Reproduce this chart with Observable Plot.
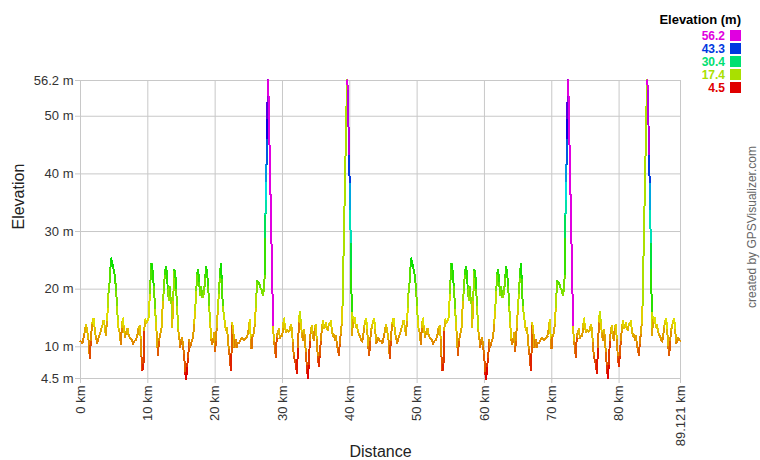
<!DOCTYPE html>
<html><head><meta charset="utf-8">
<script src="https://cdn.jsdelivr.net/npm/d3@7"></script>
<script src="https://cdn.jsdelivr.net/npm/@observablehq/plot@0.6"></script>
<style>
body{margin:0;background:#fff;font-family:"Liberation Sans",Arial,sans-serif;}
#wrap{position:relative;width:760px;height:460px;overflow:hidden;}
#legend{position:absolute;left:600px;top:13px;width:141px;text-align:right;font:bold 12px "Liberation Sans",Arial,sans-serif;line-height:13px;color:#000;}
#legend .title{font-size:13px;margin-bottom:4px;}
#legend .row{height:13px;}
#legend .sw{display:inline-block;width:11px;height:11px;margin-left:5px;vertical-align:-1px;}
#credit{position:absolute;left:752px;top:227px;transform:translate(-50%,-50%) rotate(-90deg);white-space:nowrap;font:12px "Liberation Sans",Arial,sans-serif;color:#666;}
</style></head>
<body><div id="wrap"><div id="chart"></div><div id="legend"></div><div id="credit">created by GPSVisualizer.com</div></div>
<script>
// distance within one lap (km); the course is ridden twice
const lapStartKm = [0, 44.561];
const lapKm = [
  0,0.30,0.59,0.79,0.94,1.19,1.39,1.53,1.73,1.93,
  2.08,2.28,2.48,2.67,2.92,3.17,3.42,3.57,3.76,3.96,
  4.06,4.16,4.31,4.46,4.56,4.71,4.85,5.05,5.20,5.30,
  5.45,5.54,5.69,5.84,5.99,6.14,6.29,6.43,6.63,6.78,
  6.98,7.13,7.38,7.62,7.82,8.02,8.22,8.42,8.62,8.81,
  8.96,9.06,9.21,9.36,9.46,9.61,9.80,10.00,10.15,10.30,
  10.40,10.55,10.70,10.89,11.10,11.20,11.32,11.49,11.69,11.88,
  12.08,12.23,12.38,12.53,12.68,12.82,12.97,13.12,13.22,13.37,
  13.52,13.62,13.77,13.92,14.07,14.21,14.36,14.51,14.66,14.81,
  14.96,15.11,15.25,15.40,15.55,15.70,15.85,16.00,16.15,16.30,
  16.44,16.59,16.74,16.89,17.04,17.19,17.34,17.48,17.63,17.78,
  17.93,18.08,18.23,18.38,18.52,18.67,18.82,18.97,19.12,19.27,
  19.42,19.56,19.71,19.86,20.01,20.10,20.25,20.40,20.55,20.70,
  20.84,20.99,21.14,21.29,21.44,21.59,21.74,21.88,22.03,22.18,
  22.33,22.43,22.53,22.68,22.88,23.02,23.17,23.37,23.57,23.77,
  24.01,24.26,24.51,24.76,25.00,25.15,25.30,25.40,25.55,25.75,
  25.90,26.04,26.14,26.24,26.44,26.64,26.79,26.93,27.08,27.23,
  27.38,27.43,27.48,27.53,27.58,27.63,27.68,27.73,27.78,27.88,
  28.62,28.72,28.87,29.01,29.16,29.31,29.46,29.61,29.76,29.96,
  30.11,30.20,30.35,30.50,30.70,30.90,31.10,31.24,31.39,31.54,
  31.69,31.83,31.98,32.13,32.33,32.43,32.58,32.73,32.87,33.02,
  33.17,33.32,33.47,33.62,33.77,33.92,34.07,34.22,34.36,34.51,
  34.66,34.81,34.95,35.10,35.25,35.40,35.55,35.70,35.84,35.99,
  36.14,36.29,36.44,36.59,36.73,36.88,37.03,37.18,37.33,37.48,
  37.63,37.77,37.92,38.07,38.22,38.37,38.52,38.67,38.81,38.92,
  39.59,39.76,39.85,40.00,40.05,40.15,40.20,40.30,40.35,40.50,
  40.60,40.75,40.90,41.04,41.24,41.39,41.54,41.69,41.84,41.99,
  42.14,42.29,42.44,42.59,42.74,42.89,43.03,43.18,43.33,43.48,
  43.63,43.78,43.93,44.07,44.22,44.37,44.56
];
// elevation (m), lap 1
const lap1M = [
  11.0,10.7,12.4,13.8,13.2,11.2,8.0,11.2,14.1,14.9,
  13.4,11.7,10.7,11.5,12.4,13.4,14.5,13.8,12.1,14.7,
  16.9,19.3,21.1,23.8,25.3,24.7,23.7,22.7,21.0,19.5,
  16.9,14.4,12.9,12.4,10.5,13.4,14.9,13.4,11.7,12.6,
  13.1,12.1,11.5,11.2,10.5,11.0,11.2,11.8,13.2,13.6,
  11.2,8.3,5.9,7.2,12.9,14.7,14.2,14.7,15.2,19.3,
  21.6,24.4,23.3,20.4,16.4,14.1,12.4,8.6,11.2,12.4,
  13.5,18.1,19.8,22.7,23.8,23.2,19.8,18.2,20.4,18.6,
  17.5,13.4,18.1,23.3,23.0,19.8,16.9,12.9,11.7,9.9,
  11.2,11.5,9.9,8.6,5.5,4.5,6.6,8.3,11.2,9.9,
  10.6,11.2,11.8,14.1,16.4,19.8,22.7,23.3,21.0,19.0,
  20.4,18.6,18.6,19.8,22.1,23.8,22.7,20.4,16.9,14.1,
  11.2,10.5,11.2,12.4,9.2,11.2,13.5,16.4,19.3,22.1,
  24.4,21.6,16.9,15.7,14.1,12.9,13.2,11.8,9.5,8.2,
  6.0,8.9,14.1,12.9,10.0,11.2,10.0,10.6,10.7,11.2,
  11.5,11.2,11.5,11.8,13.2,14.7,11.2,9.8,11.8,12.4,
  14.1,16.9,19.3,21.4,21.2,20.6,20.0,19.8,19.0,19.8,
  22.7,29.0,33.1,35.6,38.8,41.7,46.3,49.7,52.6,56.2,
  13.5,10.8,10.0,8.3,11.8,12.6,13.1,11.5,11.8,11.8,
  13.5,14.9,13.8,12.6,12.8,12.6,12.9,13.8,13.2,10.6,
  8.3,7.7,6.9,5.5,10.0,14.4,16.1,14.1,12.4,11.2,
  12.9,11.8,8.9,6.6,4.6,7.0,11.2,12.9,13.6,11.8,
  11.2,13.5,13.8,11.2,8.3,6.6,8.6,11.2,12.9,14.4,
  13.2,13.5,14.1,13.2,12.9,13.8,14.1,14.4,13.1,11.8,
  12.1,11.2,11.8,10.6,9.5,8.6,10.6,12.4,14.1,17.2,
  56.2,54.3,43.1,38.2,33.6,27.9,23.3,15.8,12.1,15.2,
  14.4,14.9,13.5,13.8,12.6,12.1,11.8,11.2,10.9,11.8,
  13.5,14.4,14.9,12.9,10.0,8.6,11.2,12.9,13.8,14.4,
  14.9,12.9,10.6,11.2,11.5,11.2,11.0
];
// elevation (m), lap 2 (read separately; same profile)
const lap2M = [
  11.0,10.7,12.4,13.8,13.2,11.2,8.0,11.2,14.1,14.9,
  13.4,11.7,10.7,11.5,12.4,13.4,14.5,13.8,12.1,14.7,
  16.9,19.3,21.1,23.8,25.3,24.7,23.7,22.7,21.0,19.5,
  16.9,14.4,12.9,12.4,10.5,13.4,14.9,13.4,11.7,12.6,
  13.1,12.1,11.5,11.2,10.5,11.0,11.2,11.8,13.2,13.6,
  11.2,8.3,5.9,7.2,12.9,14.7,14.2,14.7,15.2,19.3,
  21.6,24.4,23.3,20.4,16.4,14.1,12.4,8.6,11.2,12.4,
  13.5,18.1,19.8,22.7,23.8,23.2,19.8,18.2,20.4,18.6,
  17.5,13.4,18.1,23.3,23.0,19.8,16.9,12.9,11.7,9.9,
  11.2,11.5,9.9,8.6,5.5,4.5,6.6,8.3,11.2,9.9,
  10.6,11.2,11.8,14.1,16.4,19.8,22.7,23.3,21.0,19.0,
  20.4,18.6,18.6,19.8,22.1,23.8,22.7,20.4,16.9,14.1,
  11.2,10.5,11.2,12.4,9.2,11.2,13.5,16.4,19.3,22.1,
  24.4,21.6,16.9,15.7,14.1,12.9,13.2,11.8,9.5,8.2,
  6.0,8.9,14.1,12.9,10.0,11.2,10.0,10.6,10.7,11.2,
  11.5,11.2,11.5,11.8,13.2,14.7,11.2,9.8,11.8,12.4,
  14.1,16.9,19.3,21.4,21.2,20.6,20.0,19.8,19.0,19.8,
  22.7,29.0,33.1,35.6,38.8,41.7,46.3,49.7,52.6,56.2,
  13.5,10.8,10.0,8.3,11.8,12.6,13.1,11.5,11.8,11.8,
  13.5,14.9,13.8,12.6,12.8,12.6,12.9,13.8,13.2,10.6,
  8.3,7.7,6.9,5.5,10.0,14.4,16.1,14.1,12.4,11.2,
  12.9,11.8,8.9,6.6,4.6,7.0,11.2,12.9,13.6,11.8,
  11.2,13.5,13.8,11.2,8.3,6.6,8.6,11.2,12.9,14.4,
  13.2,13.5,14.1,13.2,12.9,13.8,14.1,14.4,13.1,11.8,
  12.1,11.2,11.8,10.6,9.5,8.6,10.6,12.4,14.1,17.2,
  56.2,54.3,43.1,38.2,33.6,27.9,23.3,15.8,12.1,15.2,
  14.4,14.9,13.5,13.8,12.6,12.1,11.8,11.2,10.9,11.8,
  13.5,14.4,14.9,12.9,10.0,8.6,11.2,12.9,13.8,14.4,
  14.9,12.9,10.6,11.2,11.5,11.2,11.0
];
const xTicks = [0, 10, 20, 30, 40, 50, 60, 70, 80, 89.121];
const yTicks = [4.5, 10, 20, 30, 40, 50, 56.2];
const legendValues = [56.2, 43.3, 30.4, 17.4, 4.5];
const elevDomain = [4.5, 56.2];
const xDomain = [0, 89.121];

const track = [];
[lap1M, lap2M].forEach((arr, lap) => arr.forEach((m, i) => track.push({km: lapStartKm[lap] + lapKm[i], m})));
const segs = d3.pairs(track).map(([a, b]) => ({x1: a.km, y1: a.m, x2: b.km, y2: b.m, v: a.m}));

const grid = "#c8c8c8";
const chart = Plot.plot({
  width: 760, height: 460,
  marginLeft: 80, marginRight: 80, marginTop: 80, marginBottom: 82,
  style: {fontFamily: '"Liberation Sans", Arial, sans-serif', fontSize: "13px", color: "#333", background: "#fff"},
  x: {domain: xDomain},
  y: {domain: elevDomain},
  color: {type: "linear", domain: elevDomain, interpolate: t => d3.hsl(300 * t, 1, 0.44).formatHex()},
  marks: [
    Plot.gridX(xTicks, {stroke: grid, strokeOpacity: 1}),
    Plot.gridY(yTicks, {stroke: grid, strokeOpacity: 1}),
    Plot.frame({stroke: grid}),
    Plot.axisX(xTicks, {tickFormat: d => `${d} km`, tickRotate: -90, tickSize: 5, tickPadding: 2, stroke: grid, fill: "#333", label: null}),
    Plot.axisY(yTicks, {tickFormat: d => `${d} m`, tickSize: 5, tickPadding: 2, stroke: grid, fill: "#333", label: null}),
    Plot.link(segs, {x1: "x1", y1: "y1", x2: "x2", y2: "y2", stroke: "v", strokeWidth: 2, strokeLinecap: "square", shapeRendering: "crispEdges"}),
    Plot.text(["Distance"], {frameAnchor: "bottom", dy: 78, fontSize: 16, fill: "#222"}),
    Plot.text(["Elevation"], {frameAnchor: "left", dx: -62, rotate: -90, fontSize: 16, fill: "#222"})
  ]
});
document.getElementById("chart").appendChild(chart);

const cs = chart.scale("color");
const leg = document.getElementById("legend");
leg.innerHTML = `<div class="title">Elevation (m)</div>` +
  legendValues.map(v => {
    const c = cs.apply(v);
    return `<div class="row" style="color:${c}">${v.toFixed(1)}<span class="sw" style="background:${c}"></span></div>`;
  }).join("");
</script>
</body></html>
